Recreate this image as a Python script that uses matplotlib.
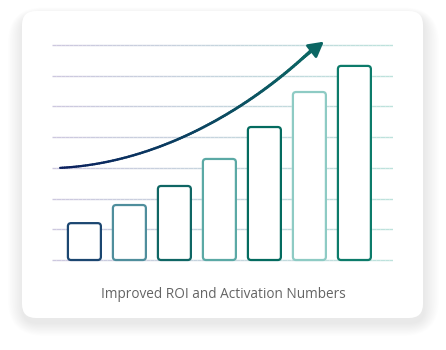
import numpy as np
import matplotlib
matplotlib.use("Agg")
import matplotlib.pyplot as plt
from matplotlib.patches import FancyBboxPatch, FancyArrowPatch
from matplotlib.collections import LineCollection
from matplotlib.bezier import BezierSegment
from matplotlib.colors import to_rgb

# ---- data ----
categories = ["1", "2", "3", "4", "5", "6", "7"]
values = [1.2, 1.79, 2.41, 3.29, 4.33, 5.47, 6.32]
bar_colors = ["#1b4670", "#4f8e9c", "#0f6664", "#5ba9a5", "#046b5f", "#8ecbc4", "#0c7b6a"]
grid_levels = [0, 1, 2, 3, 4, 5, 6, 7]
trend_ctrl_x = [-0.54, 1.5, 3.5, 5.05]
trend_ctrl_y = [3.0, 3.15, 4.7, 6.84]
trend_tip = (5.32, 7.11)
title = "Improved ROI and Activation Numbers"

W, H = 446, 350
fig = plt.figure(figsize=(W / 100, H / 100), dpi=100)
fig.patch.set_facecolor("white")

# ---- card with soft shadow ----
bg = fig.add_axes([0, 0, 1, 1])
bg.set_xlim(0, W)
bg.set_ylim(H, 0)
bg.axis("off")
cx0, cy0, cx1, cy1 = 22, 11, 423, 318
for k in range(22, 0, -1):
    bg.add_patch(FancyBboxPatch((cx0 - k * 0.7 + 1, cy0 - k * 0.4 + 5), (cx1 - cx0) + k * 1.4,
                                (cy1 - cy0) + k * 1.0,
                                boxstyle="round,pad=0,rounding_size=%f" % (14 + k),
                                facecolor="#000000", alpha=0.0035, edgecolor="none"))
bg.add_patch(FancyBboxPatch((cx0, cy0), cx1 - cx0, cy1 - cy0,
                            boxstyle="round,pad=0,rounding_size=14",
                            facecolor="white", edgecolor="none"))
bg.text((cx0 + cx1) / 2 + 0.5, 295, title, ha="center", va="center",
        fontsize=9.8, color="#646464", family=["Open Sans", "DejaVu Sans"])

# ---- chart axes ----
px_x = 45.0    # pixels per category
px_y = 30.71   # pixels per grid level
xl = (-0.72, 6.86)
yl = (-0.1, 7.3)
left = 52 / W
width = (xl[1] - xl[0]) * px_x / W
bottom = (H - (260 + (0 - yl[0]) * px_y)) / H
height = (yl[1] - yl[0]) * px_y / H
ax = fig.add_axes([left, bottom, width, height])
ax.set_xlim(*xl)
ax.set_ylim(*yl)
ax.axis("off")
ax.patch.set_alpha(0)

# gradient gridlines
c_left = np.array(to_rgb("#cdc8df"))
c_right = np.array(to_rgb("#bde2dc"))
nseg = 80
xs = np.linspace(xl[0], xl[1], nseg + 1)
for lvl in grid_levels:
    segs = [[(xs[i], lvl), (xs[i + 1], lvl)] for i in range(nseg)]
    t = np.linspace(0, 1, nseg)[:, None]
    cols = c_left * (1 - t) + c_right * t
    ax.add_collection(LineCollection(segs, colors=cols, linewidths=1.0, zorder=1))

# bars with rounded corners
xpos = np.arange(len(categories))
bw = 0.733
bars = ax.bar(xpos, values, width=bw, color="none", edgecolor="none")
rs = 3.2 / px_x
asp = (1 / px_y) / (1 / px_x)
for b, c in zip(bars, bar_colors):
    x0, y0 = b.get_x(), b.get_y()
    ax.add_patch(FancyBboxPatch((x0, y0), b.get_width(), b.get_height(),
                                boxstyle="round,pad=0,rounding_size=%f" % rs,
                                mutation_aspect=asp, facecolor="white",
                                edgecolor=c, linewidth=1.6, zorder=3))

# trend arrow (gradient navy -> teal)
bez = BezierSegment(np.column_stack([trend_ctrl_x, trend_ctrl_y]))
tt = np.linspace(0, 1, 120)
pts = bez(tt)
segs = np.stack([pts[:-1], pts[1:]], axis=1)
c0 = np.array(to_rgb("#0a1f5e"))
c1 = np.array(to_rgb("#0b6663"))
tm = np.linspace(0, 1, len(segs))[:, None]
cols = c0 * (1 - tm) + c1 * tm
lws = np.linspace(1.6, 2.2, len(segs))
ax.add_collection(LineCollection(segs, colors=cols, linewidths=lws,
                                 capstyle="round", zorder=4))
ax.add_patch(FancyArrowPatch(tuple(pts[-6]), trend_tip,
                             arrowstyle="-|>,head_length=9,head_width=5",
                             color="#0b6663", linewidth=2.0, mutation_scale=1,
                             shrinkA=0, shrinkB=0, zorder=5, clip_on=False))

fig.savefig("out.png", dpi=100, facecolor="white")
